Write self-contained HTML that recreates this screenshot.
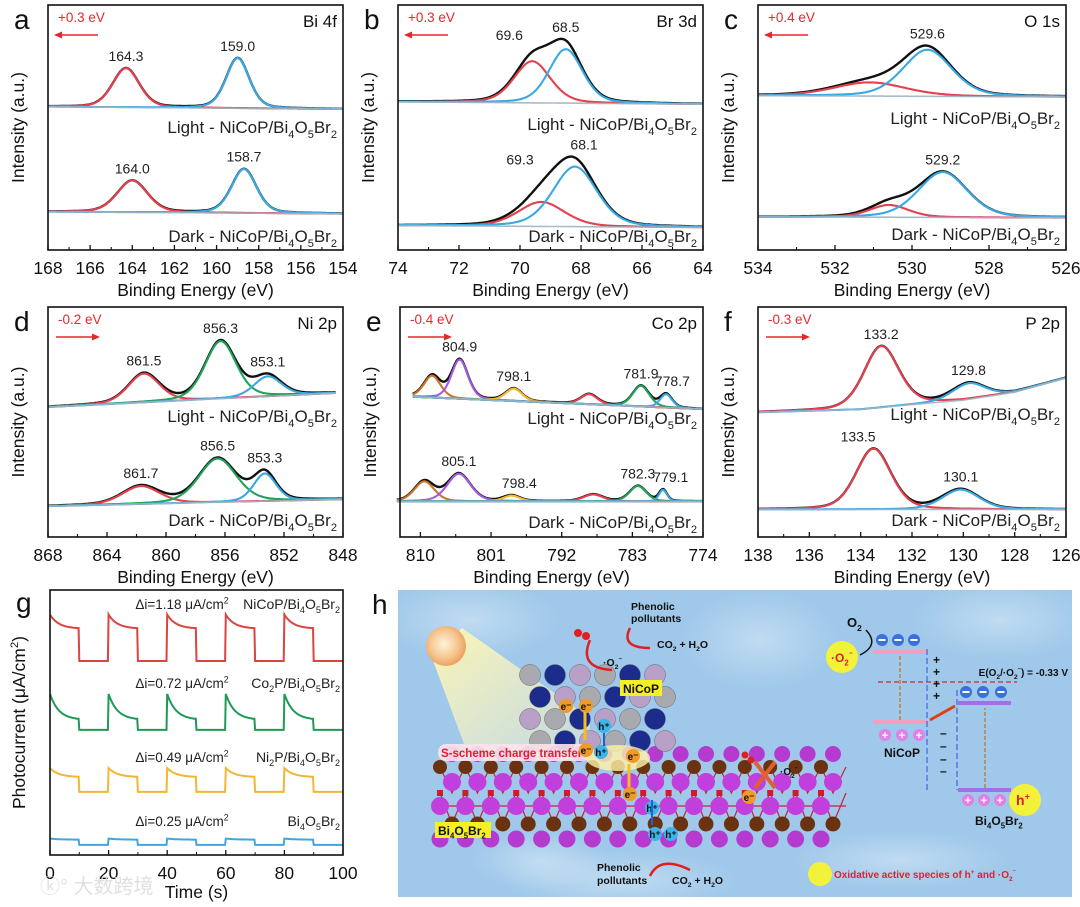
<!DOCTYPE html>
<html><head><meta charset="utf-8">
<style>
html,body{margin:0;padding:0;background:#fff;}
svg{display:block;font-family:"Liberation Sans","Noto Sans CJK SC",sans-serif;}
</style></head>
<body>
<svg id="fig" width="1080" height="907" viewBox="0 0 1080 907" xmlns="http://www.w3.org/2000/svg">
<defs>
<linearGradient id="beam" x1="0" y1="0" x2="1" y2="1">
<stop offset="0" stop-color="#fff6b0" stop-opacity="0.95"/>
<stop offset="1" stop-color="#fff9d0" stop-opacity="0.35"/>
</linearGradient>
<radialGradient id="sun" cx="0.45" cy="0.45" r="0.6">
<stop offset="0" stop-color="#fff3da"/><stop offset="0.6" stop-color="#f5c48e"/><stop offset="1" stop-color="#e89a55"/>
</radialGradient>
<radialGradient id="blot" cx="0.5" cy="0.5" r="0.5">
<stop offset="0" stop-color="#ffffff" stop-opacity="0.35"/><stop offset="1" stop-color="#ffffff" stop-opacity="0"/>
</radialGradient>
</defs>
<g id="layer"></g>
</svg>
<script>
// ---------- DATA ----------
// Panel a (Bi 4f)
const aLightBaseE=[168,154], aLightBaseV=[58.5,57.5];
const aLightCen=[164.3,159.0], aLightHgt=[16,20.5], aLightWid=[1.5,1.3];
const aDarkBaseE=[168,154], aDarkBaseV=[15.6,14.8];
const aDarkCen=[164.0,158.7], aDarkHgt=[13,18], aDarkWid=[1.7,1.4];
const aLightLabels=["164.3","159.0"], aDarkLabels=["164.0","158.7"];
// Panel b (Br 3d)
const bLightBaseE=[74,64], bLightBaseV=[60.5,59.5];
const bLightCen=[69.6,68.5], bLightHgt=[17,22], bLightWid=[1.4,1.3];
const bDarkBaseE=[74,64], bDarkBaseV=[10,9.2];
const bDarkCen=[69.3,68.2], bDarkHgt=[10,24.5], bDarkWid=[1.8,1.7];
const bLightLabels=["69.6","68.5"], bDarkLabels=["69.3","68.1"];
// Panel c (O 1s)
const cLightBaseE=[534,526], cLightBaseV=[63,62.5];
const cLightCen=[531.1,529.6], cLightHgt=[5.6,19], cLightWid=[2.2,1.5];
const cDarkBaseE=[534,526], cDarkBaseV=[13.5,13.2];
const cDarkCen=[530.6,529.2], cDarkHgt=[5,18.5], cDarkWid=[1.2,1.5];
const cLightLabels=["","529.6"], cDarkLabels=["","529.2"];
// Panel d (Ni 2p)
const dLightBaseE=[868,848.5], dLightBaseV=[56.5,62.6];
const dLightCen=[861.5,856.3,853.1], dLightHgt=[12.5,25,8.7], dLightWid=[2.5,2.5,2.2];
const dDarkBaseE=[868,848], dDarkBaseV=[13.4,16.4];
const dDarkCen=[861.7,856.5,853.3], dDarkHgt=[7.8,19,12], dDarkWid=[3,3,1.8];
const dLightLabels=["861.5","856.3","853.1"], dDarkLabels=["861.7","856.5","853.3"];
// Panel e (Co 2p)
const eLightBaseE=[811,774], eLightBaseV=[61,55.6];
const eLightCen=[808.5,805,798.1,788.5,781.9,778.7], eLightHgt=[9.5,17,5.4,4.4,9,5.8], eLightWid=[2.5,2.5,2.5,2.5,2.5,1.8];
const eDarkBaseE=[813,774], eDarkBaseV=[15.5,15.5];
const eDarkCen=[809.5,805.1,798.4,788,782.3,779.1], eDarkHgt=[8.7,12,2.5,3,6.7,5], eDarkWid=[3,3.5,2.5,3,2.5,1.2];
const eLightLabels=["","804.9","798.1","","781.9","778.7"], eDarkLabels=["","805.1","798.4","","782.3","779.1"];
// Panel f (P 2p)
const fLightBaseE=[138,134,132,130,128,126], fLightBaseV=[54.2,55.5,57.6,59.5,63,69.2];
const fLightCen=[133.2,129.8], fLightHgt=[26.7,7], fLightWid=[1.6,1.5];
const fDarkBaseE=[138,126], fDarkBaseV=[12,12];
const fDarkCen=[133.5,130.1], fDarkHgt=[26.4,8.6], fDarkWid=[1.6,1.7];
const fLightLabels=["133.2","129.8"], fDarkLabels=["133.5","130.1"];
// Panel g (photocurrent)
const gSeries=["NiCoP/Bi4O5Br2","Co2P/Bi4O5Br2","Ni2P/Bi4O5Br2","Bi4O5Br2"];
const gDelta=["1.18","0.72","0.49","0.25"];
const gSpike=[90.7,60.8,32.8,6.2];
const gPlateau=[85.4,51,29.4,5.8];
const gOff=[73.2,47.2,23.8,3.8];
const gOnStarts=[0,20,40,60,80];
const gOnDuration=10;
const gTicks=[0,20,40,60,80,100];

// ---------- HELPERS ----------
const NS="http://www.w3.org/2000/svg";
const layer=document.getElementById('layer');
function mk(tag,attrs,parent){const e=document.createElementNS(NS,tag);for(const k in attrs)e.setAttribute(k,attrs[k]);(parent||layer).appendChild(e);return e;}
function interp(xs,vs,x){
  if(xs.length===1)return vs[0];
  const dir=xs[1]>xs[0]?1:-1;
  for(let i=0;i<xs.length-1;i++){const a=xs[i],b=xs[i+1];
    if((x-a)*(x-b)<=0){const t=(x-a)/(b-a);return vs[i]+t*(vs[i+1]-vs[i]);}}
  return (dir*(x-xs[0])<0)?vs[0]:vs[vs.length-1];
}
function pv(x,c,h,w){const d=(x-c)/w;return h*(0.7*Math.exp(-4*Math.LN2*d*d)+0.3/(1+4*d*d));}
function subText(parent,x,y,parts,size,anchor,fill,weight){
  const t=mk('text',{x:x,y:y,'font-size':size,'text-anchor':anchor||'start',fill:fill||'#111','font-weight':weight||'normal'},parent);
  let shift=0;
  parts.forEach(p=>{
    const s=mk('tspan',{},t);
    const target=p[1]==='sub'?size*0.3:(p[1]==='sup'?-size*0.4:0);
    s.setAttribute('dy',target-shift);shift=target;
    if(p[1])s.setAttribute('font-size',size*0.65);
    s.textContent=p[0];
  });
  return t;
}
const formula=(pre)=>[[pre+"NiCoP/Bi"],["4","sub"],["O"],["5","sub"],["Br"],["2","sub"]];

function drawXPS(cfg){
  const g=mk('g',{});
  
  
  const B=cfg.box;
  const xs=e=>B.x+(cfg.eL-e)/(cfg.eL-cfg.eR)*B.w;
  const ys=v=>B.y+B.h-v/100*B.h;
  cfg.spectra.forEach(sp=>{
    const e0=Math.min(...sp.baseE),e1=Math.max(...sp.baseE);
    const N=320;
    const env=[],comps=sp.cen.map(()=>[]),base=[];
    for(let i=0;i<=N;i++){
      const e=e1-(e1-e0)*i/N;
      const b=interp(sp.baseE,sp.baseV,e);
      let s=b;
      sp.cen.forEach((c,k)=>{const v=pv(e,c,sp.hgt[k],sp.wid[k]);s+=v;comps[k].push([xs(e),ys(b+v)]);});
      env.push([xs(e),ys(s)]);base.push([xs(e),ys(b)]);
    }
    const P=a=>'M'+a.map(p=>p[0].toFixed(1)+','+p[1].toFixed(1)).join('L');
    const ep=mk('path',{d:P(env),fill:'none',stroke:'#111','stroke-width':2.4},g);
    
    
    sp.cen.forEach((c,k)=>{
      const cp=mk('path',{d:P(comps[k]),fill:'none',stroke:sp.col[k],'stroke-width':2.1},g);
      
      
    });
    const bp=mk('path',{d:P(base),fill:'none',stroke:'#9fb4c4','stroke-width':1.6,opacity:0.9},g);
    
    
    sp.cen.forEach((c,k)=>{
      if(!sp.labels[k])return;
      let top=0;for(let d=-0.3;d<=0.3;d+=0.05){const e=c+d;let s=interp(sp.baseE,sp.baseV,e);sp.cen.forEach((cc,j)=>s+=pv(e,cc,sp.hgt[j],sp.wid[j]));top=Math.max(top,s);}
      const lx=xs(c+(sp.labelShift?sp.labelShift[k]:0));
      const t=mk('text',{x:lx,y:ys(top)-7,'font-size':14,'text-anchor':'middle',fill:'#222'},g);
      
      
      t.textContent=sp.labels[k];
    });
    const lt=subText(g,B.x+B.w-6,sp.labelY,formula(sp.prefix),17,'end','#222');
    
    
  });
  const fr=mk('rect',{x:B.x,y:B.y,width:B.w,height:B.h,fill:'none',stroke:'#111','stroke-width':1.6},g);
  
  
  cfg.ticks.forEach(tv=>{
    mk('line',{x1:xs(tv),x2:xs(tv),y1:B.y+B.h,y2:B.y+B.h-5,stroke:'#111','stroke-width':1.3},g);
    const t=mk('text',{x:xs(tv),y:B.y+B.h+24,'font-size':17.5,'text-anchor':'middle',fill:'#111'},g);
    
    
    t.textContent=tv;
  });
  cfg.minors.forEach(tv=>mk('line',{x1:xs(tv),x2:xs(tv),y1:B.y+B.h,y2:B.y+B.h-3,stroke:'#111','stroke-width':1.1},g));
  const xt=mk('text',{x:B.x+B.w/2,y:B.y+B.h+46,'font-size':17.5,'text-anchor':'middle',fill:'#111'},g);
  
  
  xt.textContent='Binding Energy (eV)';
  const yt=mk('text',{x:0,y:0,'font-size':17.5,'text-anchor':'middle',fill:'#111',transform:`translate(${B.x-24},${B.y+B.h/2}) rotate(-90)`},g);
  
  
  yt.textContent='Intensity (a.u.)';
  const pl=mk('text',{x:B.x-34,y:B.y+24,'font-size':28,fill:'#111'},g);
  
  
  pl.textContent=cfg.letter;
  const el=mk('text',{x:B.x+B.w-6,y:B.y+22,'font-size':17,'text-anchor':'end',fill:'#111'},g);
  
  
  el.textContent=cfg.element;
  const sh=mk('text',{x:B.x+10,y:B.y+17,'font-size':13.5,fill:'#e8262b'},g);
  
  
  sh.textContent=cfg.shift;
  const ay=B.y+30,ax0=B.x+8,ax1=B.x+50;
  mk('line',{x1:ax0,x2:ax1,y1:ay,y2:ay,stroke:'#e8262b','stroke-width':1.6},g);
  if(cfg.shift[0]==='+') mk('polygon',{points:`${ax0-2},${ay} ${ax0+6},${ay-3.5} ${ax0+6},${ay+3.5}`,fill:'#e8262b'},g);
  else mk('polygon',{points:`${ax1+2},${ay} ${ax1-6},${ay-3.5} ${ax1-6},${ay+3.5}`,fill:'#e8262b'},g);
}
const R='#e5404e',BL='#3aa9e2',GR='#22a35a',OR='#c8762c',PU='#a35ce0',YE='#f1ba2c';
function sp(id,prefix,labelY,bE,bV,cen,hgt,wid,col,labels,shift){return {id,prefix,labelY,baseE:bE,baseV:bV,cen,hgt,wid,col,labels,labelShift:shift};}
const row1={y:5,h:245},row2={y:307,h:230};
drawXPS({name:'panel-a-bi4f',letter:'a',element:'Bi 4f',shift:'+0.3 eV',box:{x:48,y:row1.y,w:295,h:row1.h},eL:168,eR:154,
  ticks:[168,166,164,162,160,158,156,154],minors:[167,165,163,161,159,157,155],
  spectra:[sp('a-light','Light - ',133,aLightBaseE,aLightBaseV,aLightCen,aLightHgt,aLightWid,[R,BL],aLightLabels),
           sp('a-dark','Dark - ',242,aDarkBaseE,aDarkBaseV,aDarkCen,aDarkHgt,aDarkWid,[R,BL],aDarkLabels)]});
drawXPS({name:'panel-b-br3d',letter:'b',element:'Br 3d',shift:'+0.3 eV',box:{x:398,y:row1.y,w:305,h:row1.h},eL:74,eR:64,
  ticks:[74,72,70,68,66,64],minors:[73,71,69,67,65],
  spectra:[sp('b-light','Light - ',130,bLightBaseE,bLightBaseV,bLightCen,bLightHgt,bLightWid,[R,BL],bLightLabels,[0.75,0]),
           sp('b-dark','Dark - ',242,bDarkBaseE,bDarkBaseV,bDarkCen,bDarkHgt,bDarkWid,[R,BL],bDarkLabels,[0.7,-0.3])]});
drawXPS({name:'panel-c-o1s',letter:'c',element:'O 1s',shift:'+0.4 eV',box:{x:758,y:row1.y,w:308,h:row1.h},eL:534,eR:526,
  ticks:[534,532,530,528,526],minors:[533,531,529,527],
  spectra:[sp('c-light','Light - ',124,cLightBaseE,cLightBaseV,cLightCen,cLightHgt,cLightWid,[R,BL],cLightLabels),
           sp('c-dark','Dark - ',240,cDarkBaseE,cDarkBaseV,cDarkCen,cDarkHgt,cDarkWid,[R,BL],cDarkLabels)]});
drawXPS({name:'panel-d-ni2p',letter:'d',element:'Ni 2p',shift:'-0.2 eV',box:{x:48,y:row2.y,w:295,h:row2.h},eL:868,eR:848,
  ticks:[868,864,860,856,852,848],minors:[866,862,858,854,850],
  spectra:[sp('d-light','Light - ',422,dLightBaseE,dLightBaseV,dLightCen,dLightHgt,dLightWid,[R,GR,BL],dLightLabels),
           sp('d-dark','Dark - ',526,dDarkBaseE,dDarkBaseV,dDarkCen,dDarkHgt,dDarkWid,[R,GR,BL],dDarkLabels)]});
drawXPS({name:'panel-e-co2p',letter:'e',element:'Co 2p',shift:'-0.4 eV',box:{x:400,y:row2.y,w:303,h:row2.h},eL:812.6,eR:774,
  ticks:[810,801,792,783,774],minors:[805.5,796.5,787.5,778.5],
  spectra:[sp('e-light','Light - ',424,eLightBaseE,eLightBaseV,eLightCen,eLightHgt,eLightWid,[OR,PU,YE,R,GR,BL],eLightLabels,[0,0,0,0,0,-0.8]),
           sp('e-dark','Dark - ',528,eDarkBaseE,eDarkBaseV,eDarkCen,eDarkHgt,eDarkWid,[OR,PU,YE,R,GR,BL],eDarkLabels,[0,0,-1,0,0,-1])]});
drawXPS({name:'panel-f-p2p',letter:'f',element:'P 2p',shift:'-0.3 eV',box:{x:758,y:row2.y,w:308,h:row2.h},eL:138,eR:126,
  ticks:[138,136,134,132,130,128,126],minors:[137,135,133,131,129,127],
  spectra:[sp('f-light','Light - ',420,fLightBaseE,fLightBaseV,fLightCen,fLightHgt,fLightWid,[R,BL],fLightLabels),
           sp('f-dark','Dark - ',526,fDarkBaseE,fDarkBaseV,fDarkCen,fDarkHgt,fDarkWid,[R,BL],fDarkLabels,[0.6,0])]});

// ---------- Panel g ----------
(function(){
  const g=mk('g',{});
  
  
  const B={x:50,y:590,w:293,h:265};
  const xs=t=>B.x+t/100*B.w, ys=v=>B.y+B.h-v/100*B.h;
  const cols=['#d9453f','#1f9a55','#f2b632','#3ea6e3'];
  const labY=[609,688,762,826];
  const subs=[[["NiCoP/Bi"],["4","sub"],["O"],["5","sub"],["Br"],["2","sub"]],
              [["Co"],["2","sub"],["P/Bi"],["4","sub"],["O"],["5","sub"],["Br"],["2","sub"]],
              [["Ni"],["2","sub"],["P/Bi"],["4","sub"],["O"],["5","sub"],["Br"],["2","sub"]],
              [["Bi"],["4","sub"],["O"],["5","sub"],["Br"],["2","sub"]]];
  gSeries.forEach((name,k)=>{
    let d='';
    for(let t=0;t<=100;t+=0.25){
      let v=gOff[k];
      gOnStarts.forEach(s=>{ if(t>=s&&t<s+gOnDuration){const dt=t-s;v=gPlateau[k]+(gSpike[k]-gPlateau[k])*Math.exp(-dt/3);} });
      d+=(d?'L':'M')+xs(t).toFixed(1)+','+ys(v).toFixed(1);
    }
    const p=mk('path',{d:d,fill:'none',stroke:cols[k],'stroke-width':2},g);
    
    
    const dl=subText(g,182,labY[k],[["\u0394i="+gDelta[k]+" \u03bcA/cm"],["2","sup"]],13.5,'middle','#222');
    
    
    const nl=subText(g,340,labY[k],subs[k],14,'end','#222');
    
    
  });
  const fr=mk('rect',{x:B.x,y:B.y,width:B.w,height:B.h,fill:'none',stroke:'#111','stroke-width':1.6},g);
  
  
  gTicks.forEach(tv=>{
    mk('line',{x1:xs(tv),x2:xs(tv),y1:B.y+B.h,y2:B.y+B.h-5,stroke:'#111','stroke-width':1.3},g);
    const t=mk('text',{x:xs(tv),y:B.y+B.h+24,'font-size':17.5,'text-anchor':'middle',fill:'#111'},g);
    
    
    t.textContent=tv;
  });
  [10,30,50,70,90].forEach(tv=>mk('line',{x1:xs(tv),x2:xs(tv),y1:B.y+B.h,y2:B.y+B.h-3,stroke:'#111'},g));
  const xt=mk('text',{x:B.x+B.w/2,y:B.y+B.h+43,'font-size':17.5,'text-anchor':'middle',fill:'#111'},g);
  
  
  xt.textContent='Time (s)';
  const yg=mk('g',{transform:`translate(${B.x-25},${B.y+B.h/2}) rotate(-90)`},g);
  const yt=subText(yg,0,0,[["Photocurrent (\u03bcA/cm"],["2","sup"],[")"]],17.5,'middle','#111');
  
  
  const pl=mk('text',{x:16,y:612,'font-size':28,fill:'#111'},g);
  
  
  pl.textContent='g';
  const wm=mk('text',{x:40,y:893,'font-size':20,fill:'#ddd',opacity:0.9},g);
  
  
  wm.textContent='\u24DA\u00B0 \u5927\u6570\u8de8\u5883';
})();

// ---------- Panel h (schematic) ----------
(function(){
  const g=mk('g',{});
  
  
  const pl=mk('text',{x:372,y:614,'font-size':28,fill:'#111'},g);
  
  
  pl.textContent='h';
  const bg=mk('rect',{x:398,y:590,width:674,height:307,fill:'#9fc8ea'},g);
  
  
  [[470,620,90,40],[620,880,120,30],[900,860,110,30],[1000,620,90,40],[760,640,80,50],[540,860,70,30]].forEach(b=>mk('ellipse',{cx:b[0],cy:b[1],rx:b[2],ry:b[3],fill:'url(#blot)'},g));
  mk('polygon',{points:'432,658 462,628 590,718 590,760 470,760',fill:'url(#beam)'},g);
  const sun=mk('circle',{cx:446,cy:646,r:20,fill:'url(#sun)'},g);
  
  
  const lat=mk('g',{},g);
  
  
  for(let i=0;i<16;i++){
    const x=440+i*25.4;
    mk('path',{d:`M${x},767 L${x+12},793 L${x+25},767 M${x},793 L${x+12},824 L${x+25},793 M${x},806 L${x+25},806`,stroke:'#c8213a','stroke-width':1.2,fill:'none'},lat);
  }
  for(let i=0;i<16;i++){const x=440+i*25.4;
    mk('circle',{cx:x+12,cy:754,r:8,fill:'#b53ad0'},lat);
    mk('circle',{cx:x,cy:767,r:7,fill:'#6a3210'},lat);
    mk('circle',{cx:x+12,cy:782,r:9,fill:'#c140dd'},lat);
    mk('rect',{x:x-3,y:790,width:6,height:6,fill:'#d01c28'},lat);
    mk('circle',{cx:x,cy:806,r:9,fill:'#c140dd'},lat);
    mk('circle',{cx:x+12,cy:824,r:7.5,fill:'#6a3210'},lat);
    mk('circle',{cx:x,cy:839,r:8.5,fill:'#b53ad0'},lat);
  }
  const cl=mk('g',{},g);
  
  
  const cc=['#a9a9b0','#1c2c8c','#b9a0c6'];
  for(let r=0;r<4;r++)for(let c=0;c<6;c++){
    mk('circle',{cx:530+c*25+(r%2)*10,cy:675+r*22,r:10.5,fill:cc[(r+c)%3],stroke:'#666','stroke-width':0.5},cl);
  }
  const box=(x,y,w,txt,nm)=>{const r=mk('rect',{x:x,y:y,width:w,height:16,fill:'#f5f022'},g);return r;};
  box(620,680,42,'','nicop-label-box');
  const nt=mk('text',{x:641,y:693,'font-size':12,'font-weight':'bold','text-anchor':'middle',fill:'#111'},g);
  
  
  nt.textContent='NiCoP';
  box(435,822,56,'','bi4o5br2-label-box');
  const bt=subText(g,438,835,[["Bi"],["4","sub"],["O"],["5","sub"],["Br"],["2","sub"]],12,'start','#111','bold');
  
  
  mk('rect',{x:438,y:744,width:152,height:17,rx:8,fill:'#fbe3ea',opacity:0.9},g);
  const ss=mk('text',{x:441,y:757,'font-size':11.5,'font-weight':'bold',fill:'#e02030'},g);
  
  
  ss.textContent='S-scheme charge transfer';
  mk('ellipse',{cx:618,cy:758,rx:32,ry:13,fill:'#fff3a8',opacity:0.8},g);
  const carrier=(x,y,t,col)=>{mk('circle',{cx:x,cy:y,r:7,fill:col},g);const tt=mk('text',{x:x,y:y+4,'font-size':10,'font-weight':'bold','text-anchor':'middle',fill:'#111'},g);tt.textContent=t;};
  [[566,706],[586,706],[586,750],[633,756],[630,794],[749,797]].forEach(p=>carrier(p[0],p[1],'e\u207b','#f09a2a'));
  [[601,752],[604,726],[655,834],[671,834],[652,808]].forEach(p=>carrier(p[0],p[1],'h\u207a','#3cb4ea'));
  mk('line',{x1:585,y1:740,x2:585,y2:712,stroke:'#f2c01a','stroke-width':3},g);
  mk('line',{x1:629,y1:787,x2:629,y2:764,stroke:'#f2c01a','stroke-width':3},g);
  mk('line',{x1:604,y1:733,x2:604,y2:746,stroke:'#2060d0','stroke-width':2},g);
  mk('line',{x1:652,y1:800,x2:652,y2:825,stroke:'#2060d0','stroke-width':2},g);
  const txt=(x,y,s,size,nm,anchor,fill)=>{const t=mk('text',{x:x,y:y,'font-size':size,'font-weight':'bold','text-anchor':anchor||'start',fill:fill||'#111'},g);t.textContent=s;return t;};
  txt(631,610,'Phenolic',10.5,'phenolic-label-top');
  txt(631,622,'pollutants',10.5,'phenolic-label-top-2');
  const co=subText(g,657,648,[["CO"],["2","sub"],[" + H"],["2","sub"],["O"]],10.5,'start','#111','bold');
  
  
  mk('path',{d:'M630,628 Q620,648 650,648',stroke:'#e02020','stroke-width':2.5,fill:'none'},g);
  mk('path',{d:'M590,640 Q578,668 612,670',stroke:'#e02020','stroke-width':2.5,fill:'none'},g);
  const o2a=subText(g,603,666,[["\u00b7O"],["2","sub"],["\u207b","sup"]],10.5,'start','#111','bold');
  
  
  mk('circle',{cx:578,cy:633,r:4,fill:'#e02020'},g);mk('circle',{cx:586,cy:636,r:4,fill:'#e02020'},g);
  txt(597,871,'Phenolic',10.5,'phenolic-label-bottom');
  txt(597,884,'pollutants',10.5,'phenolic-label-bottom-2');
  const co2=subText(g,672,884,[["CO"],["2","sub"],[" + H"],["2","sub"],["O"]],10.5,'start','#111','bold');
  
  
  mk('path',{d:'M650,876 Q660,855 690,870',stroke:'#e02020','stroke-width':2.5,fill:'none'},g);
  mk('path',{d:'M755,762 L775,788 M775,762 L755,788',stroke:'#e06030','stroke-width':4,fill:'none'},g);
  mk('circle',{cx:745,cy:755,r:3.5,fill:'#e02020'},g);mk('circle',{cx:751,cy:760,r:3.5,fill:'#e02020'},g);
  const o2b=subText(g,780,775,[["\u00b7O"],["2","sub"],["\u207b","sup"]],10,'start','#111','bold');
  
  
  const bd=mk('g',{},g);
  
  
  mk('circle',{cx:842,cy:657,r:16,fill:'#f3f23a'},bd);
  subText(bd,831,662,[["\u00b7O"],["2","sub"],["\u207b","sup"]],12,'start','#e02020','bold');
  subText(bd,847,627,[["O"],["2","sub"]],13,'start','#111','bold');
  mk('path',{d:'M866,630 Q880,645 860,655',stroke:'#111','stroke-width':1.5,fill:'none'},bd);
  mk('rect',{x:873,y:650,width:54,height:4,fill:'#f2a0c0'},bd);
  mk('rect',{x:873,y:720,width:54,height:4,fill:'#f2a0c0'},bd);
  mk('rect',{x:958,y:701,width:53,height:4,fill:'#a070e8'},bd);
  mk('rect',{x:958,y:788,width:53,height:4,fill:'#a070e8'},bd);
  mk('line',{x1:878,y1:682,x2:1017,y2:682,stroke:'#e02030','stroke-width':1.3,'stroke-dasharray':'5,3'},bd);
  mk('line',{x1:927,y1:649,x2:927,y2:790,stroke:'#3050e0','stroke-width':1,'stroke-dasharray':'6,3'},bd);
  mk('line',{x1:957,y1:690,x2:957,y2:790,stroke:'#3050e0','stroke-width':1,'stroke-dasharray':'6,3'},bd);
  mk('line',{x1:900,y1:720,x2:900,y2:656,stroke:'#c08040','stroke-width':1.5,'stroke-dasharray':'4,2'},bd);
  mk('line',{x1:985,y1:788,x2:985,y2:708,stroke:'#c08040','stroke-width':1.5,'stroke-dasharray':'4,2'},bd);
  mk('path',{d:'M955,706 L930,720',stroke:'#e04010','stroke-width':3},bd);
  [[882,640],[898,640],[914,640],[966,692],[983,692],[1001,692]].forEach(p=>{mk('circle',{cx:p[0],cy:p[1],r:6,fill:'#3a70d8'},bd);mk('rect',{x:p[0]-3.5,y:p[1]-1,width:7,height:2,fill:'#fff'},bd);});
  [[885,735],[902,735],[919,735],[968,800],[984,800],[1000,800]].forEach(p=>{mk('circle',{cx:p[0],cy:p[1],r:6,fill:'#e080e8'},bd);mk('text',{x:p[0],y:p[1]+4,'font-size':11,'text-anchor':'middle',fill:'#fff','font-weight':'bold'},bd).textContent='+';});
  [660,672,684,696].forEach(y=>mk('text',{x:933,y:y+4,'font-size':12,'font-weight':'bold',fill:'#111'},bd).textContent='+');
  [733,746,759,771].forEach(y=>mk('text',{x:940,y:y+4,'font-size':12,'font-weight':'bold',fill:'#111'},bd).textContent='\u2013');
  mk('circle',{cx:1025,cy:800,r:16,fill:'#f3f23a'},bd);
  subText(bd,1016,805,[["h"],["+","sup"]],14,'start','#e02020','bold');
  const nic=mk('text',{x:902,y:757,'font-size':12,'font-weight':'bold','text-anchor':'middle',fill:'#111'},bd);
  
  
  nic.textContent='NiCoP';
  const bib=subText(bd,975,825,[["Bi"],["4","sub"],["O"],["5","sub"],["Br"],["2","sub"]],12,'start','#111','bold');
  
  
  const pot=subText(bd,1068,676,[["E(O"],["2","sub"],["/\u00b7O"],["2","sub"],["\u207b","sup"],[") = -0.33 V"]],10,'end','#111','bold');
  
  
  const lc=mk('circle',{cx:820,cy:874,r:12,fill:'#f3f23a'},g);
  
  
  const lt=subText(g,834,878,[["Oxidative active species of h"],["+","sup"],[" and \u00b7O"],["2","sub"],["\u207b","sup"]],10,'start','#e02030','bold');
  
  
})();
</script>
</body></html>
